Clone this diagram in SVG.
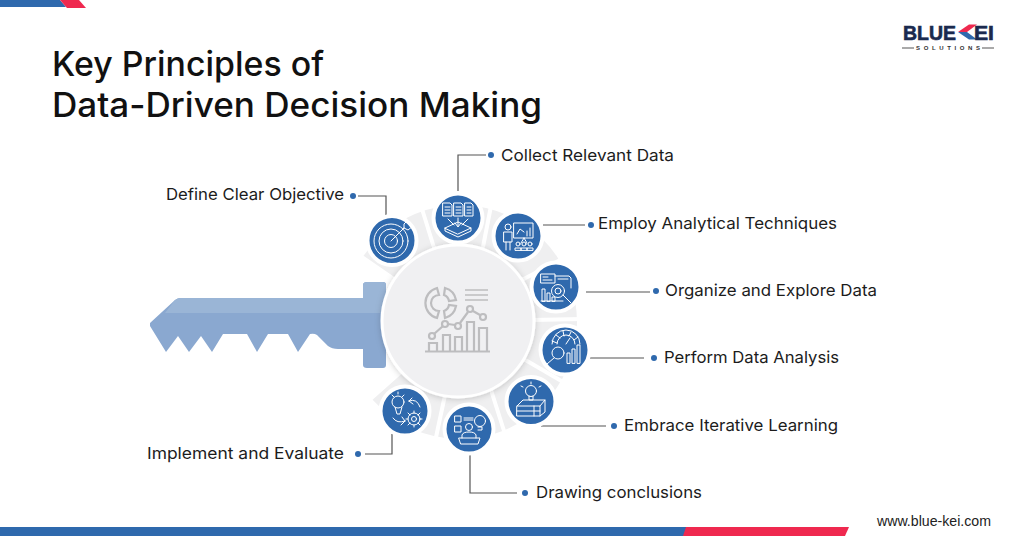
<svg xmlns="http://www.w3.org/2000/svg" width="1024" height="536" viewBox="0 0 1024 536">
<defs>
<style>
.t{font-family:"Inter","Open Sans","Liberation Sans",sans-serif;fill:#111;}
.title{font-size:34px;font-weight:500;}
.lab{font-size:16.5px;font-weight:400;fill:#1c1c1c;}
.c{fill:none;stroke:#555;stroke-width:1.2;}
.dot{fill:#2f69ad;}
.disc{fill:#2f69ad;stroke:#fff;stroke-width:4;}
.ic{fill:none;stroke:#fff;stroke-width:1;stroke-linejoin:round;stroke-linecap:round;}
.g{fill:none;stroke:#bdbdbf;stroke-width:2.2;}
.div{stroke:#fff;stroke-width:4;}
.lg{font-family:"Liberation Sans",sans-serif;font-weight:700;font-size:19.500px;fill:#1b2a4e;stroke:#1b2a4e;stroke-width:.6;}
</style>
<filter id="sh" x="-20%" y="-20%" width="140%" height="140%"><feDropShadow dx="0" dy="1" stdDeviation="3" flood-color="#000" flood-opacity="0.18"/></filter>
</defs>
<rect width="1024" height="536" fill="#fff"/>
<g id="bars">
<polygon points="0,0 60,0 66,7 0,7" fill="#2f69ad"/>
<polygon points="60,0 79,0 86,8 67,8" fill="#ef294f"/>
<rect x="0" y="527" width="686" height="9" fill="#2f69ad"/>
<polygon points="686,527 849,527 845,536 683,536" fill="#ef294f"/>
</g>
<g id="title">
<text class="t title" x="52" y="76" textLength="272" lengthAdjust="spacingAndGlyphs">Key Principles of</text>
<text class="t title" x="52" y="117" textLength="490" lengthAdjust="spacingAndGlyphs">Data-Driven Decision Making</text>
</g>
<g id="logo">
<text class="lg" x="903" y="39.500" textLength="53" lengthAdjust="spacingAndGlyphs">BLUE</text>
<polygon points="958,32 969,24.500 977,24.500 967,32" fill="#ef294f"/>
<polygon points="958,32 967,32 977,39.500 969,39.500" fill="#2f69ad"/>
<text class="lg" x="974" y="39.500" textLength="20" lengthAdjust="spacingAndGlyphs">EI</text>
<path d="M902 48H914M982 48H994" stroke="#555" stroke-width="1"/>
<text x="916" y="50" font-family="Liberation Sans,sans-serif" font-weight="700" font-size="6" fill="#333" textLength="64">SOLUTIONS</text>
</g>
<g id="key">
<path d="M180 298H363V285Q363 282 367 282H383Q386 282 386 285V365Q386 368 383 368H367Q363 368 363 365V349H338Q332 349 328 346L317 335Q314 333 310 334L298 352L288 334H268L257 352L247 334H223L212 352L201 336L189 352L178 336L166 352L150 326V323L175 300Q178 298 180 298Z" fill="#8aa8d0"/>
<path d="M180 298H363V285Q363 282 367 282H383Q386 282 386 285V313H165L175 300Q178 298 180 298Z" fill="#9ab5d6"/>
</g>
<g id="ring">
<circle cx="460" cy="322" r="95" fill="none" stroke="#efeff0" stroke-width="44" stroke-dasharray="470 127" transform="rotate(214.5 460 322)"/>
<g class="div">
<path d="M422 209L436 254"/><path d="M491 206L482 252"/><path d="M564 258L518 282"/><path d="M582 319L532 320"/><path d="M570 386L522 358"/><path d="M505 434L491 390"/><path d="M435 442L445 395"/>
</g>
</g>
<g id="hub">
<circle cx="458" cy="321" r="76" fill="#f0f0f2" stroke="#fff" stroke-width="3" filter="url(#sh)"/>
<g class="g">
<path d="M437 288A15.500 15.500 0 0 0 437 318L439 311A8 8 0 0 1 439 295Z"/>
<path d="M445 288A15.500 15.500 0 0 1 456 300L449 301A8 8 0 0 0 444 295Z"/>
<path d="M456 306A15.500 15.500 0 0 1 445 318L444 311A8 8 0 0 0 449 305Z"/>
<path d="M465 290H488M465 295H488M465 300H488" stroke-width="1.600"/>
<path d="M425 351.500H490"/>
<path d="M429 351V343H437V351M443 351V335H450V351M455 351V337H462V351M467 351V322H474V351M479 351V328H487V351"/>
<path d="M434 334L443 326M448 324L455 325M460 323L468 312M473 311L480 315"/>
<circle cx="432" cy="336" r="3"/><circle cx="445" cy="324" r="3"/><circle cx="458" cy="326" r="3"/><circle cx="470" cy="309" r="3"/><circle cx="483" cy="317" r="3"/>
</g>
</g>
<g id="connectors">
<path class="c" d="M358 196H386V215"/>
<path class="c" d="M458 191V155H486"/>
<path class="c" d="M543 225H585"/>
<path class="c" d="M586 292H650"/>
<path class="c" d="M590 358H644"/>
<path class="c" d="M541 426H606"/>
<path class="c" d="M470 455V493H517"/>
<path class="c" d="M392 434V454H365"/>
</g>
<g id="node-objective">
<circle class="disc" cx="392" cy="240.500" r="24.500"/>
<g class="ic"><circle cx="391" cy="241" r="17"/><circle cx="391" cy="241" r="12"/><circle cx="391" cy="241" r="6.500"/><path d="M391 241L404 228M404 228L404 224L408 220L409 225L413 226L408 230L404 228"/></g>
<circle class="dot" cx="353" cy="196" r="3"/>
<text class="t lab" x="166" y="200" textLength="178" lengthAdjust="spacingAndGlyphs">Define Clear Objective</text>
</g>
<g id="node-collect">
<circle class="disc" cx="458" cy="218" r="24.500"/>
<g class="ic"><path d="M443 203H450L452 205V216H443ZM454 203H461L463 205V216H454ZM465 203H471L473 205V216H465Z"/><path d="M445 207H450M445 210H450M445 213H450M456 207H461M456 210H461M456 213H461M467 207H471M467 210H471M467 213H471"/><path d="M458 218V226M455 223L458 227L461 223M448 219L454 225M468 219L462 225"/><path d="M445 228L458 222L471 228L458 234ZM445 228V231L458 237L471 231V228"/></g>
<circle class="dot" cx="491" cy="155" r="3"/>
<text class="t lab" x="501" y="161" textLength="173" lengthAdjust="spacingAndGlyphs">Collect Relevant Data</text>
</g>
<g id="node-employ">
<circle class="disc" cx="518" cy="236" r="24.500"/>
<g class="ic"><circle cx="508" cy="227" r="3"/><path d="M504 232H512V242H504ZM506 242V250M510 242V250"/><rect x="514" y="223" width="19" height="15"/><path d="M517 234L520 229L524 232M527 236V231M530 236V228M524 238L521 243M524 238L527 243"/><circle cx="518" cy="244" r="2"/><circle cx="524" cy="244" r="2"/><circle cx="530" cy="244" r="2"/><path d="M515 250V248H521V250ZM521 250V248H527V250ZM527 250V248H533V250Z"/></g>
<circle class="dot" cx="591" cy="225" r="3"/>
<text class="t lab" x="598" y="229" textLength="239" lengthAdjust="spacingAndGlyphs">Employ Analytical Techniques</text>
</g>
<g id="node-organize">
<circle class="disc" cx="556" cy="287" r="24.500"/>
<g class="ic"><rect x="541" y="274" width="14" height="9"/><path d="M555 276H569L571 278V288M543 277H548M543 280H552M558 279H568"/><circle cx="558" cy="291" r="6.500"/><circle cx="558" cy="291" r="3"/><path d="M563 295L571 303"/><path d="M542 301V289H545V301ZM547 301V293H550V301ZM552 301V297H555V301ZM541 301H563"/></g>
<circle class="dot" cx="656" cy="291" r="3"/>
<text class="t lab" x="665" y="296" textLength="212" lengthAdjust="spacingAndGlyphs">Organize and Explore Data</text>
</g>
<g id="node-perform">
<circle class="disc" cx="565" cy="350" r="24.500"/>
<g class="ic"><path d="M552 344A14 14 0 0 1 580 344"/><path d="M557 344A9 9 0 0 1 575 344"/><path d="M552 341L557 343M556 335L560 338M563 331L564 336M571 332L569 336M578 337L574 340M566 344L570 338"/><circle cx="558" cy="353" r="6"/><path d="M554 358L547 364"/><path d="M567 363V353H570V363ZM572 363V349H575V363ZM577 363V345H580V363Z"/></g>
<circle class="dot" cx="654" cy="358" r="3"/>
<text class="t lab" x="664" y="363" textLength="175" lengthAdjust="spacingAndGlyphs">Perform Data Analysis</text>
</g>
<g id="node-embrace">
<circle class="disc" cx="531" cy="401.500" r="24.500"/>
<g class="ic"><circle cx="531" cy="391" r="5.500"/><path d="M529 396V400H533V396M523 387L521 386M539 387L541 386M531 382V384"/><path d="M517 406L523 400H545V412L540 416H517ZM517 406H540V416M540 406L545 400M517 411H540M534 406V416"/></g>
<circle class="dot" cx="614" cy="426" r="3"/>
<text class="t lab" x="624" y="431" textLength="214" lengthAdjust="spacingAndGlyphs">Embrace Iterative Learning</text>
</g>
<g id="node-drawing">
<circle class="disc" cx="469" cy="429" r="24.500"/>
<g class="ic"><rect x="455" y="416" width="6" height="6"/><rect x="455" y="426" width="6" height="6"/><path d="M464 418H473M464 420H473"/><circle cx="480" cy="421" r="5.500"/><path d="M478 427H482V430H478"/><circle cx="469" cy="427" r="3.500"/><path d="M462 438V435Q463 432 469 432Q475 432 476 435V438"/><path d="M459 438H480L478 444H461Z"/></g>
<circle class="dot" cx="525" cy="493" r="3"/>
<text class="t lab" x="536" y="498" textLength="166" lengthAdjust="spacingAndGlyphs">Drawing conclusions</text>
</g>
<g id="node-implement">
<circle class="disc" cx="405" cy="411" r="24.500"/>
<g class="ic"><circle cx="398" cy="402" r="6"/><path d="M395 407L397 414H400L402 407M392 395L394 397M398 392V394M404 395L402 397"/><path d="M409 401Q417 398 420 407M409 401L412 398M409 401L413 404"/><path d="M393 418Q397 424 405 421M405 421L402 417M405 421L401 425"/><circle cx="414" cy="419" r="6"/><circle cx="414" cy="419" r="2.500"/><path d="M414 411V413M414 425V427M406 419H408M420 419H422M408 413L410 415M420 425L418 423M420 413L418 415M408 425L410 423"/></g>
<circle class="dot" cx="358" cy="454" r="3"/>
<text class="t lab" x="147" y="459" textLength="197" lengthAdjust="spacingAndGlyphs">Implement and Evaluate</text>
</g>
<text id="url" x="877" y="526" font-family="Liberation Sans,sans-serif" font-size="15" fill="#222" textLength="114" lengthAdjust="spacingAndGlyphs">www.blue-kei.com</text>
</svg>
